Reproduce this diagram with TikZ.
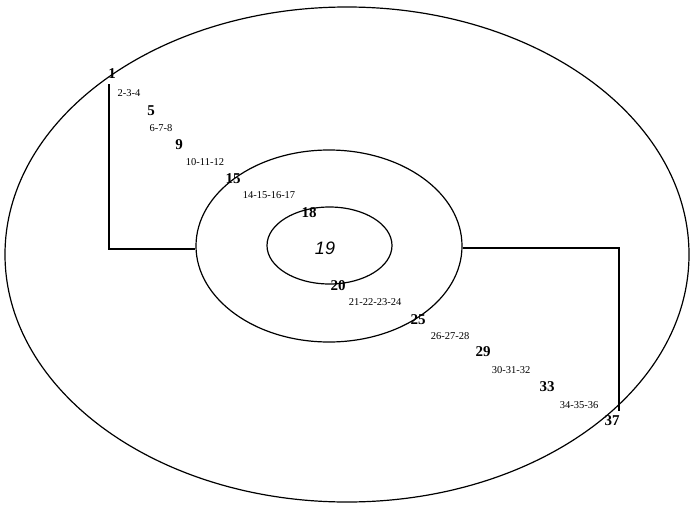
\documentclass[tikz,border=0pt]{standalone}
\usepackage{fontspec}
\setmainfont{Liberation Serif}
\newfontfamily\labsans{Liberation Sans}
\usetikzlibrary{shapes.geometric}
\begin{document}
\begin{tikzpicture}[x=1pt,y=-1pt,
  ring/.style={draw,ellipse,inner sep=0pt,line width=1.2pt},
  big/.style={font=\fontsize{15}{15}\selectfont\bfseries,inner sep=0pt},
  small/.style={font=\fontsize{10.5}{11}\selectfont,inner sep=0pt},
  wire/.style={line width=1.1pt}]
\useasboundingbox (0,0) rectangle (690,506);
\node[ring,minimum width=684pt,minimum height=495pt] (outer) at (347,254.5) {};
\node[ring,minimum width=266pt,minimum height=192pt] (mid) at (329,246) {};
\node[ring,minimum width=125pt,minimum height=77pt] (inner) at (329.5,245.5) {};
\node[font=\labsans\itshape\fontsize{18}{18}\selectfont,inner sep=0pt] (n19) at (325,248) {19};
\coordinate (a) at (109,84);
\coordinate (b) at (619,411);
\draw[wire] (a) |- ([yshift=-3pt]mid.west);
\draw[wire] ([yshift=-2pt]mid.east) -| (b);
\node[big] (n1) at (112,74) {1};
\node[small] (l234) at (129,93) {2-3-4};
\node[big] (n5) at (151,111) {5};
\node[small] (l678) at (161,128) {6-7-8};
\node[big] (n9) at (179,145) {9};
\node[small] (l101112) at (205,162) {10-11-12};
\node[big] (n15) at (233,179) {15};
\node[small] (l14) at (269,195) {14-15-16-17};
\node[big] (n18) at (309,213) {18};
\node[big] (n20) at (338,286) {20};
\node[small] (l21) at (375,302) {21-22-23-24};
\node[big] (n25) at (418,320) {25};
\node[small] (l26) at (450,336) {26-27-28};
\node[big] (n29) at (483,352) {29};
\node[small] (l30) at (511,370) {30-31-32};
\node[big] (n33) at (547,387) {33};
\node[small] (l34) at (579,405) {34-35-36};
\node[big] (n37) at (612,421) {37};
\end{tikzpicture}
\end{document}
